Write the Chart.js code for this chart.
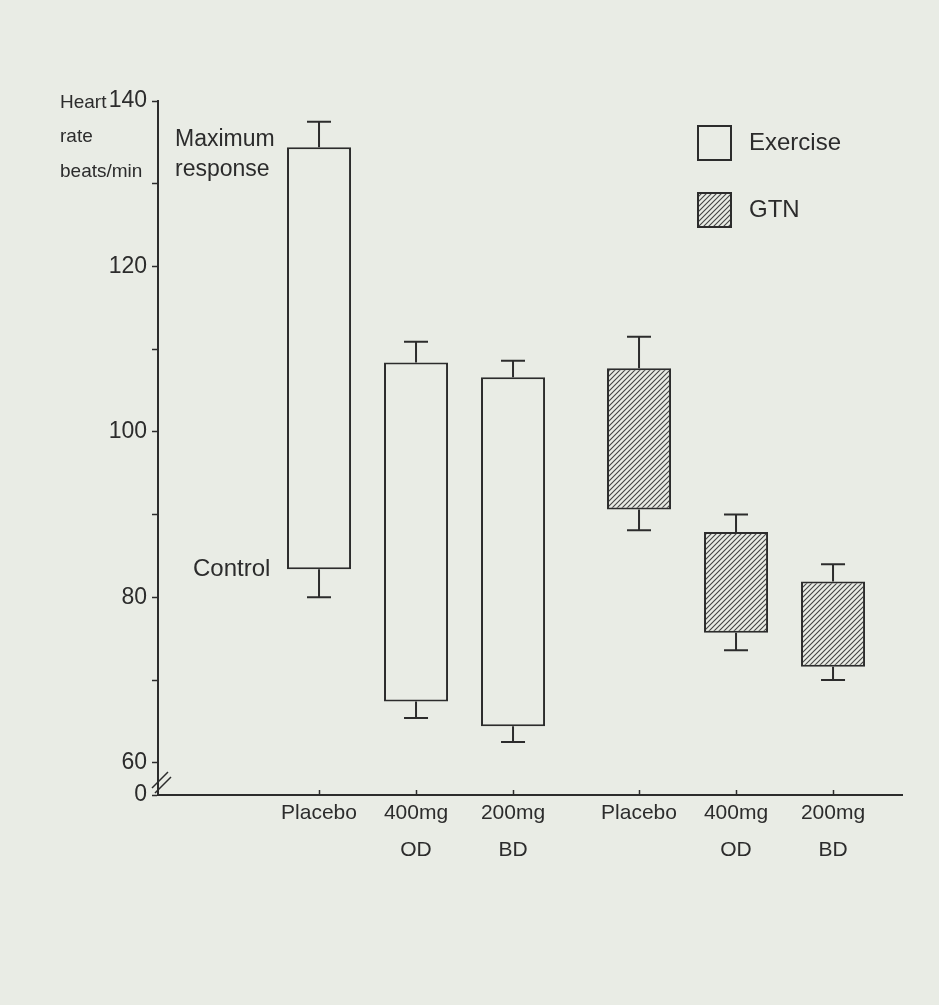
<!DOCTYPE html>
<html>
<head>
<meta charset="utf-8">
<title>Heart rate response</title>
<script src="https://cdn.jsdelivr.net/npm/chart.js@4.4.1/dist/chart.umd.min.js"></script>
<style>
    html, body { margin: 0; padding: 0; background: #e9ece5; }
    #wrap { width: 939px; height: 1005px; }
</style>
</head>
<body>
<div id="wrap"><canvas id="myChart"></canvas></div>
<script>
// dose groups (x axis)
const doses = [['Placebo'], ['400mg', 'OD'], ['200mg', 'BD']];
const doseIdx = [0, 1, 2];

// heart rate, beats/min: bar runs from control to maximum response, whiskers are s.e.m.
const exerciseControl = [83.4, 67.4, 64.4];
const exerciseMax = [134.4, 108.4, 106.6];
const exerciseControlSem = [3.4, 2.0, 1.9];
const exerciseMaxSem = [3.1, 2.5, 2.0];

const gtnControl = [90.6, 75.7, 71.6];
const gtnMax = [107.7, 87.9, 81.9];
const gtnControlSem = [2.5, 2.1, 1.6];
const gtnMaxSem = [3.8, 2.1, 2.1];

const yTickValues = [60, 70, 80, 90, 100, 110, 120, 130, 140];
const yLabelValues = [60, 80, 100, 120, 140];

const INK = '#2c2c2c';
const BG = '#e9ece5';
const FONT = "'Liberation Sans', Arial, sans-serif";

const ctx = document.getElementById('myChart').getContext('2d');

function hatch() {
    const c = document.createElement('canvas');
    c.width = 5;
    c.height = 5;
    const g = c.getContext('2d');
    g.fillStyle = BG;
    g.fillRect(0, 0, 5, 5);
    g.strokeStyle = '#444';
    g.lineWidth = 1.1;
    g.beginPath();
    g.moveTo(0, 5); g.lineTo(5, 0);
    g.moveTo(-1, 1); g.lineTo(1, -1);
    g.moveTo(4, 6); g.lineTo(6, 4);
    g.stroke();
    return ctx.createPattern(c, 'repeat');
}
const gtnFill = hatch();

const toBars = (lo, hi) => doseIdx.map(i => ({ x: i, y: [lo[i], hi[i]] }));

const extras = {
    id: 'extras',
    afterDatasetsDraw(chart) {
        const { ctx, scales: { y } } = chart;
        ctx.save();
        ctx.strokeStyle = INK;
        ctx.lineWidth = 2;

        // s.e.m. whiskers
        chart.data.datasets.forEach((ds, di) => {
            chart.getDatasetMeta(di).data.forEach((bar, i) => {
                const [lo, hi] = ds.data[i].y;
                const yTop = y.getPixelForValue(hi);
                const yTopCap = y.getPixelForValue(hi + ds.semHigh[i]);
                const yBot = y.getPixelForValue(lo);
                const yBotCap = y.getPixelForValue(lo - ds.semLow[i]);
                ctx.beginPath();
                ctx.moveTo(bar.x, yTop); ctx.lineTo(bar.x, yTopCap);
                ctx.moveTo(bar.x - 12, yTopCap); ctx.lineTo(bar.x + 12, yTopCap);
                ctx.moveTo(bar.x, yBot); ctx.lineTo(bar.x, yBotCap);
                ctx.moveTo(bar.x - 12, yBotCap); ctx.lineTo(bar.x + 12, yBotCap);
                ctx.stroke();
            });
        });

        // axis break
        ctx.lineWidth = 1.5;
        ctx.beginPath();
        ctx.moveTo(152, 788); ctx.lineTo(168, 772);
        ctx.moveTo(155, 793); ctx.lineTo(171, 777);
        ctx.stroke();

        ctx.fillStyle = INK;
        ctx.textBaseline = 'middle';
        ctx.textAlign = 'left';

        // y axis title
        ctx.font = `19px ${FONT}`;
        ctx.fillText('Heart', 60, 103);
        ctx.fillText('rate', 60, 137);
        ctx.fillText('beats/min', 60, 172);

        // annotations
        ctx.font = `23px ${FONT}`;
        ctx.fillText('Maximum', 175, 140);
        ctx.fillText('response', 175, 170);
        ctx.font = `24px ${FONT}`;
        ctx.fillText('Control', 193, y.getPixelForValue(exerciseControl[0]));

        // legend
        ctx.font = `24px ${FONT}`;
        ctx.lineWidth = 2;
        chart.data.datasets.forEach((ds, di) => {
            const top = 126 + di * 67;
            ctx.fillStyle = ds.backgroundColor;
            ctx.fillRect(698, top, 33, 34);
            ctx.strokeRect(698, top, 33, 34);
            ctx.fillStyle = INK;
            ctx.fillText(ds.label, 749, top + 17);
        });
        ctx.restore();
    }
};

new Chart(ctx, {
    type: 'bar',
    data: {
        datasets: [
            {
                label: 'Exercise',
                xAxisID: 'xEx',
                data: toBars(exerciseControl, exerciseMax),
                semLow: exerciseControlSem,
                semHigh: exerciseMaxSem,
                backgroundColor: BG,
                borderColor: INK,
                borderWidth: 2,
                borderSkipped: false,
                grouped: false,
                barPercentage: 0.66,
                categoryPercentage: 1
            },
            {
                label: 'GTN',
                xAxisID: 'xGtn',
                data: toBars(gtnControl, gtnMax),
                semLow: gtnControlSem,
                semHigh: gtnMaxSem,
                backgroundColor: gtnFill,
                borderColor: INK,
                borderWidth: 2,
                borderSkipped: false,
                grouped: false,
                barPercentage: 0.66,
                categoryPercentage: 1
            }
        ]
    },
    options: {
        responsive: true,
        maintainAspectRatio: false,
        animation: false,
        layout: { padding: { top: 101, left: 98, right: 37, bottom: 120 } },
        scales: {
            // exercise doses sit on this axis; it also carries the ticks of the GTN doses
            xEx: {
                type: 'linear',
                position: 'bottom',
                min: -1.66,
                max: 6.01,
                offset: false,
                afterBuildTicks: s => {
                    const g = s.chart.options.scales.xGtn;
                    const toEx = v => s.min + (v - g.min) / (g.max - g.min) * (s.max - s.min);
                    s.ticks = [...doseIdx, ...doseIdx.map(toEx)].map(v => ({ value: v }));
                },
                afterFit: s => { s.height = 90; },
                grid: { offset: false, drawOnChartArea: false, tickLength: -5, tickColor: INK, tickWidth: 1.5 },
                border: { color: INK, width: 2 },
                ticks: {
                    callback: (v, i) => doses[i % doses.length],
                    color: INK,
                    padding: 4,
                    autoSkip: false,
                    maxRotation: 0,
                    font: { family: FONT, size: 21, lineHeight: 1.8 }
                }
            },
            // GTN doses, same pixel span, shifted range
            xGtn: {
                type: 'linear',
                display: false,
                min: -4.959,
                max: 2.711,
                offset: false,
                afterBuildTicks: s => { s.ticks = doseIdx.map(v => ({ value: v })); }
            },
            y: {
                min: 56.1,
                max: 140,
                afterBuildTicks: s => { s.ticks = [s.min, ...yTickValues].map(v => ({ value: v })); },
                afterFit: s => { s.width = 60; },
                grid: { drawOnChartArea: false, tickLength: 6, tickColor: INK, tickWidth: 1.5 },
                border: { color: INK, width: 2 },
                ticks: {
                    padding: 5,
                    color: INK,
                    autoSkip: false,
                    font: { family: FONT, size: 23 },
                    callback: function (v) {
                        if (v === this.min) return '0';
                        return yLabelValues.includes(v) ? String(v) : '';
                    }
                }
            }
        },
        plugins: {
            legend: { display: false },
            tooltip: { enabled: false }
        }
    },
    plugins: [extras]
});
</script>
</body>
</html>
